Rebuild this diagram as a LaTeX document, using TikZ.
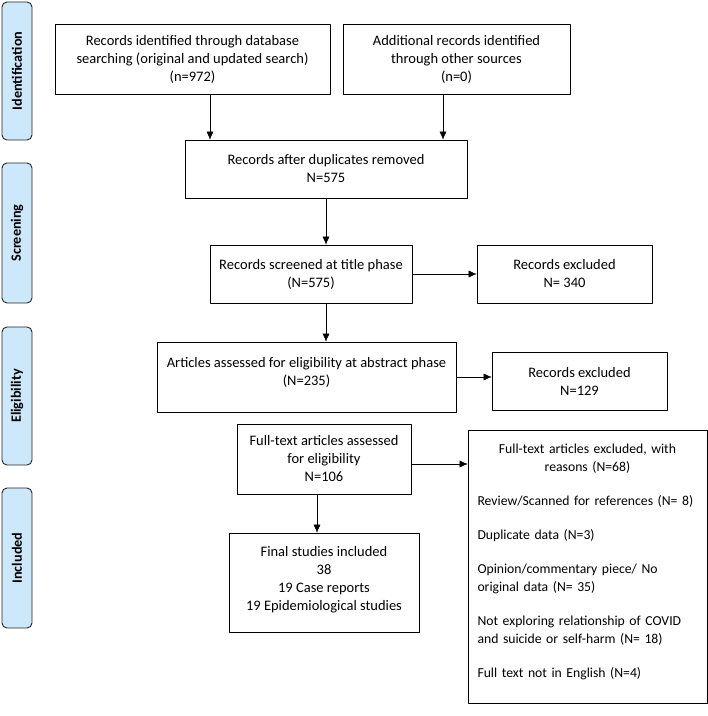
\documentclass[tikz,border=0pt]{standalone}
\usepackage{fontspec}
\setmainfont{Carlito}[BoldFont={Carlito Bold}]
\usetikzlibrary{arrows.meta}
\definecolor{phaseblue}{RGB}{206,232,251}
\begin{document}
\begin{tikzpicture}[>={Latex[length=8bp,width=7bp]},line join=bevel,
  box/.style={draw,black,line width=0.8bp,align=center,inner sep=0pt,font=\fontsize{14.5bp}{18bp}\selectfont},
  phase/.style={draw=black!85,text=black,line width=0.9bp,rounded corners=5bp,fill=phaseblue,rotate=90,
    minimum height=30bp,inner sep=0pt,font=\fontsize{14.2bp}{16bp}\selectfont\bfseries}]
%%
\useasboundingbox (0bp,0bp) rectangle (708bp,716bp);
% phases
\node (node_ident) at (17bp,645bp) [phase,minimum width=138bp] {Identification};
\node (node_screen) at (17bp,483bp) [phase,minimum width=140bp] {Screening};
\node (node_elig) at (17bp,320bp) [phase,minimum width=138bp] {Eligibility};
\node (node_incl) at (17bp,158bp) [phase,minimum width=140bp] {Included};
% boxes
\node (node_db) at (192.5bp,657bp) [box,minimum width=275bp,minimum height=70bp] {Records identified through database\\searching (original and updated search)\\(n=972)};
\node (node_other) at (456.5bp,657bp) [box,minimum width=227bp,minimum height=70bp] {Additional records identified\\through other sources\\(n=0)};
\node (node_dup) at (326bp,547bp) [box,minimum width=282bp,minimum height=58bp] {Records after duplicates removed\\N=575};
\node (node_title) at (311bp,442bp) [box,minimum width=202bp,minimum height=58bp] {Records screened at title phase\\(N=575)};
\node (node_excl1) at (564.5bp,442bp) [box,minimum width=175bp,minimum height=58bp] {Records excluded\\N= 340};
\node (node_abstract) at (306.5bp,339bp) [box,minimum width=299bp,minimum height=70bp] {Articles assessed for eligibility at abstract phase\\(N=235)\\[-6bp]~};
\node (node_excl2) at (579.5bp,335bp) [box,minimum width=175bp,minimum height=58bp] {Records excluded\\N=129};
\node (node_full) at (324bp,257bp) [box,minimum width=174bp,minimum height=70bp] {Full-text articles assessed\\for eligibility\\N=106};
\node (node_final) at (324bp,133.5bp) [box,minimum width=190bp,minimum height=99bp] {Final studies included\\38\\19 Case reports\\19 Epidemiological studies\\[-9bp]~};
\node (node_reasons) at (587.5bp,149.5bp) [box,font=\fontsize{13.7bp}{18bp}\selectfont,minimum width=239bp,minimum height=273bp,text width=236bp,align=left] {\leftskip=8bp
{\centering Full-text articles excluded, with\\reasons (N=68)\par}
\vspace{16bp}
Review/Scanned for references (N= 8)\\[16bp]
Duplicate data (N=3)\\[16bp]
Opinion/commentary piece/ No\\original data (N= 35)\\[16bp]
Not exploring relationship of COVID\\and suicide or self-harm (N= 18)\\[16bp]
Full text not in English (N=4)\\[-7bp]~};
% arrows
\draw [black,->] ([xshift=17.5bp]node_db.south) -- ([xshift=17.5bp]node_db.south |- node_dup.north);
\draw [black,->] ([xshift=-13.5bp]node_other.south) -- ([xshift=-13.5bp]node_other.south |- node_dup.north);
\draw [black,->] (node_dup.south) -- (node_dup.south |- node_title.north);
\draw [black,->] (node_title.east) -- (node_excl1.west);
\draw [black,->] (node_dup.south |- node_title.south) -- (node_dup.south |- node_abstract.north);
\draw [black,->] (node_abstract.east) -- (node_abstract.east -| node_excl2.west);
\draw [black,->] ([yshift=-5bp]node_full.east) -- ([yshift=-5bp]node_full.east -| node_reasons.west);
\draw [black,->] ([xshift=-7bp]node_full.south) -- ([xshift=-7bp]node_full.south |- node_final.north);
%
\end{tikzpicture}
\end{document}
